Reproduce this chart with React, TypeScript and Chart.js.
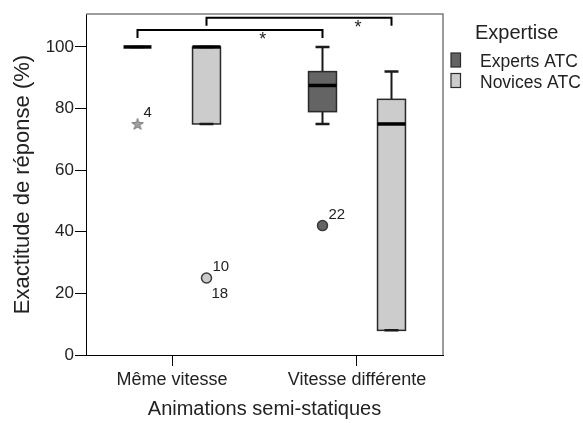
import React, { useEffect, useRef } from 'react';
import { Chart, registerables } from 'chart.js';

Chart.register(...registerables);

// Groups on the x axis and the two expertise series
const groups = ['Même vitesse', 'Vitesse différente'];
const seriesNames = ['Experts ATC', 'Novices ATC'];
const seriesFill = ['#646464', '#cccccc'];
const yTicks = [0, 20, 40, 60, 80, 100];

// Five-number summaries, one entry per group
const expertsMin = [100, 75];
const expertsQ1 = [100, 79];
const expertsMedian = [100, 87.5];
const expertsQ3 = [100, 92];
const expertsMax = [100, 100];

const novicesMin = [75, 8];
const novicesQ1 = [75, 8];
const novicesMedian = [100, 75];
const novicesQ3 = [100, 83];
const novicesMax = [100, 92];

// Outlying cases: group index, value, case numbers, extreme (star) or not (circle)
const expertsOutlierGroup = [0, 1];
const expertsOutlierValue = [75, 42];
const expertsOutlierCases = [['4'], ['22']];
const expertsOutlierExtreme = [true, false];

const novicesOutlierGroup = [0];
const novicesOutlierValue = [25];
const novicesOutlierCases = [['10', '18']];
const novicesOutlierExtreme = [false];

// Significance brackets: series joined across the two groups, bar level, leg end, star position
const bracketSeries = [0, 1];
const bracketLevel = [105.5, 109.5];
const bracketLegEnd = [102.9, 106.9];
const bracketStarX = [0.49, 1.005];

const FONT = '"Liberation Sans", Arial, sans-serif';
const TEXT = '#222222';
const seriesOffset = [-0.1865, 0.1865];
const boxWidth = 0.151;

const summaries = [
  { min: expertsMin, q1: expertsQ1, med: expertsMedian, q3: expertsQ3, max: expertsMax },
  { min: novicesMin, q1: novicesQ1, med: novicesMedian, q3: novicesQ3, max: novicesMax },
];

const outliers = [
  { group: expertsOutlierGroup, value: expertsOutlierValue, cases: expertsOutlierCases, extreme: expertsOutlierExtreme },
  { group: novicesOutlierGroup, value: novicesOutlierValue, cases: novicesOutlierCases, extreme: novicesOutlierExtreme },
];

function makeStar(): HTMLCanvasElement {
  const c = document.createElement('canvas');
  c.width = 14;
  c.height = 14;
  const g = c.getContext('2d')!;
  g.beginPath();
  for (let i = 0; i < 10; i++) {
    const r = i % 2 === 0 ? 6 : 2.4;
    const a = -Math.PI / 2 + (i * Math.PI) / 5;
    const px = 7 + r * Math.cos(a);
    const py = 7.5 + r * Math.sin(a);
    if (i === 0) g.moveTo(px, py);
    else g.lineTo(px, py);
  }
  g.closePath();
  g.fillStyle = '#a0a0a0';
  g.fill();
  g.strokeStyle = '#7a7a7a';
  g.lineWidth = 1;
  g.stroke();
  return c;
}

const boxPlotPlugin = {
  id: 'boxPlot',
  beforeDatasetsDraw(chart: any) {
    const { ctx, scales } = chart;
    const xs = scales.x;
    const ys = scales.y;
    const halfW = (xs.getPixelForValue(boxWidth) - xs.getPixelForValue(0)) / 2;
    ctx.save();
    summaries.forEach((s, si) => {
      groups.forEach((_, gi) => {
        const cx = xs.getPixelForValue(gi + seriesOffset[si]);
        const yMin = ys.getPixelForValue(s.min[gi]);
        const yQ1 = ys.getPixelForValue(s.q1[gi]);
        const yMed = ys.getPixelForValue(s.med[gi]);
        const yQ3 = ys.getPixelForValue(s.q3[gi]);
        const yMax = ys.getPixelForValue(s.max[gi]);
        // whiskers
        ctx.strokeStyle = '#1a1a1a';
        ctx.lineWidth = 2;
        ctx.beginPath();
        ctx.moveTo(cx, yMax);
        ctx.lineTo(cx, yQ3);
        ctx.moveTo(cx, yQ1);
        ctx.lineTo(cx, yMin);
        ctx.stroke();
        // box
        if (yQ1 - yQ3 > 0.5) {
          ctx.fillStyle = seriesFill[si];
          ctx.fillRect(cx - halfW, yQ3, halfW * 2, yQ1 - yQ3);
          ctx.strokeStyle = '#2a2a2a';
          ctx.lineWidth = 1.5;
          ctx.strokeRect(cx - halfW, yQ3, halfW * 2, yQ1 - yQ3);
        }
        // whisker caps
        ctx.strokeStyle = '#1a1a1a';
        ctx.lineWidth = 2.5;
        ctx.beginPath();
        ctx.moveTo(cx - halfW / 2, yMax);
        ctx.lineTo(cx + halfW / 2, yMax);
        ctx.moveTo(cx - halfW / 2, yMin);
        ctx.lineTo(cx + halfW / 2, yMin);
        ctx.stroke();
        // median
        ctx.strokeStyle = '#000000';
        ctx.lineWidth = 3.5;
        ctx.beginPath();
        ctx.moveTo(cx - halfW, yMed);
        ctx.lineTo(cx + halfW, yMed);
        ctx.stroke();
      });
    });
    ctx.restore();
  },
  afterDraw(chart: any) {
    const { ctx, scales, chartArea } = chart;
    const xs = scales.x;
    const ys = scales.y;
    ctx.save();

    // top and right frame of the plot area
    ctx.strokeStyle = '#7c7c7c';
    ctx.lineWidth = 1.5;
    ctx.beginPath();
    ctx.moveTo(chartArea.left, chartArea.top);
    ctx.lineTo(chartArea.right, chartArea.top);
    ctx.lineTo(chartArea.right, chartArea.bottom);
    ctx.stroke();

    // case numbers next to outlying points
    ctx.fillStyle = TEXT;
    ctx.font = `15px ${FONT}`;
    ctx.textAlign = 'left';
    ctx.textBaseline = 'alphabetic';
    outliers.forEach((o, si) => {
      o.group.forEach((g, i) => {
        const px = xs.getPixelForValue(g + seriesOffset[si]);
        const py = ys.getPixelForValue(o.value[i]);
        const cases = o.cases[i];
        ctx.fillText(cases[0], px + 6, py - 7);
        if (cases[1]) ctx.fillText(cases[1], px + 5, py + 20);
      });
    });

    // significance brackets
    ctx.strokeStyle = '#000000';
    ctx.lineWidth = 2;
    bracketSeries.forEach((si, b) => {
      const x0 = xs.getPixelForValue(0 + seriesOffset[si]);
      const x1 = xs.getPixelForValue(1 + seriesOffset[si]);
      const yl = ys.getPixelForValue(bracketLevel[b]);
      const ye = ys.getPixelForValue(bracketLegEnd[b]);
      ctx.beginPath();
      ctx.moveTo(x0, ye);
      ctx.lineTo(x0, yl);
      ctx.lineTo(x1, yl);
      ctx.lineTo(x1, ye);
      ctx.stroke();
      ctx.font = `18px ${FONT}`;
      ctx.textAlign = 'center';
      ctx.textBaseline = 'top';
      ctx.fillText('*', xs.getPixelForValue(bracketStarX[b]), yl + 1);
    });

    // legend
    ctx.textAlign = 'left';
    ctx.textBaseline = 'alphabetic';
    ctx.fillStyle = TEXT;
    ctx.font = `20px ${FONT}`;
    ctx.fillText('Expertise', 475, 39);
    ctx.font = `17.5px ${FONT}`;
    seriesNames.forEach((name, i) => {
      const top = 53 + i * 20.5;
      ctx.fillStyle = seriesFill[i];
      ctx.fillRect(451, top, 9.5, 14);
      ctx.strokeStyle = '#2a2a2a';
      ctx.lineWidth = 1.2;
      ctx.strokeRect(451, top, 9.5, 14);
      ctx.fillStyle = TEXT;
      ctx.fillText(name, 480, top + 14.3);
    });
    ctx.restore();
  },
};

export default function App() {
  const canvasRef = useRef<HTMLCanvasElement | null>(null);

  useEffect(() => {
    const canvas = canvasRef.current;
    if (!canvas) return;
    const star = makeStar();

    const datasets = outliers.map((o, si) => ({
      label: seriesNames[si],
      data: o.group.map((g, i) => ({ x: g + seriesOffset[si], y: o.value[i] })),
      pointStyle: o.extreme.map((e) => (e ? star : 'circle')),
      pointRadius: 5,
      pointBorderWidth: 1.5,
      backgroundColor: seriesFill[si],
      borderColor: '#3a3a3a',
      showLine: false,
    }));

    const chart = new Chart(canvas, {
      type: 'scatter',
      data: { datasets: datasets as any },
      options: {
        animation: false,
        responsive: false,
        devicePixelRatio: 1,
        layout: { padding: { left: 0, top: 14, right: 140, bottom: 0 } },
        plugins: {
          legend: { display: false },
          tooltip: { enabled: false },
        },
        scales: {
          x: {
            type: 'linear',
            min: -0.4649,
            max: 1.4649,
            afterBuildTicks: (s: any) => {
              s.ticks = groups.map((_, i) => ({ value: i }));
            },
            afterFit: (s: any) => {
              s.height = 68;
            },
            ticks: {
              callback: (v: any) => groups[v as number] ?? '',
              font: { family: FONT, size: 18 },
              color: TEXT,
              padding: 3,
              maxRotation: 0,
              autoSkip: false,
            },
            grid: { drawOnChartArea: false, drawTicks: true, tickLength: 11, color: '#000000' },
            border: { color: '#000000', width: 1 },
            title: {
              display: true,
              text: 'Animations semi-statiques',
              font: { family: FONT, size: 20 },
              color: TEXT,
              padding: { top: 0, bottom: 2 },
            },
          },
          y: {
            type: 'linear',
            min: 0,
            max: 110.7,
            afterBuildTicks: (s: any) => {
              s.ticks = yTicks.map((v) => ({ value: v }));
            },
            afterFit: (s: any) => {
              s.width = 86;
            },
            ticks: {
              font: { family: FONT, size: 17 },
              color: TEXT,
              padding: 1,
            },
            grid: { drawOnChartArea: false, drawTicks: true, tickLength: 11, color: '#000000' },
            border: { color: '#000000', width: 1 },
            title: {
              display: true,
              text: 'Exactitude de réponse (%)',
              font: { family: FONT, size: 22 },
              color: TEXT,
              padding: { top: 10, bottom: 0 },
            },
          },
        },
      },
      plugins: [boxPlotPlugin],
    });

    return () => chart.destroy();
  }, []);

  return (
    <div style={{ position: 'fixed', left: 0, top: 0, width: 583, height: 423, background: '#ffffff' }}>
      <canvas ref={canvasRef} width={583} height={423} />
    </div>
  );
}
